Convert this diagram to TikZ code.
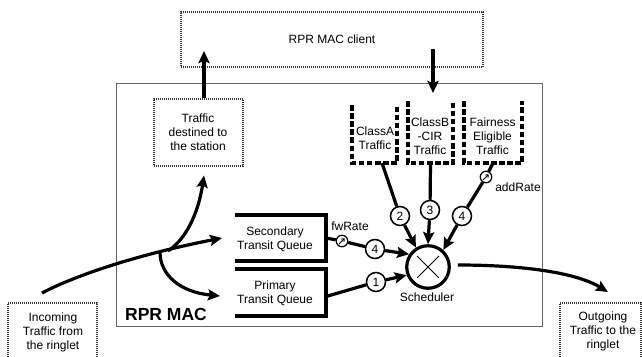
\documentclass[tikz,border=0pt]{standalone}
\usepackage{fontspec}
\setmainfont{Liberation Sans}
\usetikzlibrary{arrows.meta}
\begin{document}
\begin{tikzpicture}[x=1pt,y=-1pt,
  txt/.style={font=\fontsize{12}{14}\selectfont, align=center, inner sep=0pt},
  dotbox/.style={draw=black!80, line width=1.1pt, dash pattern=on 1pt off 1pt},
  thk/.style={line width=3.2pt},
  arr/.style={line width=3.2pt, -{Stealth[length=12pt,width=11pt,inset=2pt]}},
  dsh/.style={line width=3.2pt, dash pattern=on 5.5pt off 2.6pt},
  shape0/.style={inner sep=0pt, outer sep=0pt},
  num/.style={circle, draw, line width=1.5pt, fill=white, minimum size=19pt, inner sep=0pt, font=\fontsize{12}{14}\selectfont},
  rate/.style={circle, draw, line width=1.2pt, fill=white, minimum size=11.5pt, inner sep=0pt,
    path picture={\draw[line width=0.9pt,-{Straight Barb[length=2.4pt,width=4.4pt]}]
      ([shift={(-2.8pt,-2.8pt)}]path picture bounding box.center) --
      ([shift={(2.6pt,2.6pt)}]path picture bounding box.center);}}
]
\useasboundingbox (0,0) rectangle (642,356);
\clip (0,0) rectangle (642,356);

% client and MAC frame
\node[dotbox, minimum width=302pt, minimum height=55pt, txt] (cl) at (332,39.5) {RPR MAC client};
\node[draw=black!60, line width=1pt, minimum width=426pt, minimum height=243pt] (mac) at (329,204.5) {};
\node[font=\bfseries\fontsize{17.5}{20}\selectfont, inner sep=0pt] (maclbl) at (166,314) {RPR MAC};

% traffic destined to the station
\node[dotbox, minimum width=89pt, minimum height=67pt] (td) at (198.5,132.5) {};
\node[txt] (tdt) at (198,132) {Traffic\\destined to\\the station};
\coordinate (upTip) at (204,51);
\draw[arr] (td.north -| upTip) -- (upTip);

% client to MAC
\coordinate (dnS) at (433,49);
\coordinate (dnT) at (433,93);
\draw[arr] (dnS) -- (dnT);

% class boxes
\node[shape0, minimum width=45pt, minimum height=58pt] (ca) at (374.5,134) {};
\draw[dsh] (ca.north west) -- (ca.south west) -- (ca.south east) -- (ca.north east);
\node[txt] (cat) at (375,138) {ClassA\\Traffic};
\node[shape0, minimum width=45pt, minimum height=62pt] (cb) at (430.5,132) {};
\draw[dsh] (cb.north west) -- (cb.south west) -- (cb.south east) -- (cb.north east);
\node[txt] (cbt) at (430,136) {ClassB\\-CIR\\Traffic};
\node[shape0, minimum width=58pt, minimum height=62pt] (cf) at (493,132) {};
\draw[dsh] (cf.north west) -- (cf.south west) -- (cf.south east) -- (cf.north east);
\node[txt] (cft) at (492.5,136) {Fairness\\Eligible\\Traffic};

% queues
\node[shape0, minimum width=91pt, minimum height=46pt] (sq) at (280.5,238) {};
\draw[thk] (sq.north west) -- (sq.north east) -- (sq.south east) -- (sq.south west);
\node[txt] (sqt) at (275,239) {Secondary\\Transit Queue};
\node[shape0, minimum width=91pt, minimum height=47pt] (pq) at (280.5,292.5) {};
\draw[thk] (pq.north west) -- (pq.north east) -- (pq.south east) -- (pq.south west);
\node[txt] (pqt) at (275,293) {Primary\\Transit Queue};

% scheduler
\node[circle, draw, line width=3.2pt, minimum size=42.5pt, inner sep=0pt,
  path picture={\draw[line width=1pt]
    ([shift={(-11pt,-11pt)}]path picture bounding box.center) -- ([shift={(11pt,11pt)}]path picture bounding box.center)
    ([shift={(-11pt,11pt)}]path picture bounding box.center) -- ([shift={(11pt,-11pt)}]path picture bounding box.center);}]
  (sch) at (428,267) {};
\node[txt] (schl) at (427,297) {Scheduler};

% number circles and rate icons
\node[num] (n2) at (400,216) {2};
\node[num] (n3) at (430,210) {3};
\node[num] (n4b) at (462,216) {4};
\node[num] (n4a) at (375,249) {4};
\node[num] (n1) at (376,282) {1};
\node[rate] (fw) at (342,241) {};
\node[txt] (fwl) at (350,226) {fwRate};
\node[rate] (ar) at (486,177) {};
\node[txt] (arl) at (518,187) {addRate};

% connectors into the scheduler
\draw[thk] ([xshift=7.5pt]ca.south) -- (n2);
\draw[arr] (n2) -- (sch.122);
\draw[thk] (cb.south) -- (n3);
\draw[arr] (n3) -- (sch.90);
\draw[thk] (cf.south) -- (ar) -- (n4b);
\draw[arr] (n4b) -- (sch.48);
\draw[thk] (sq.east) -- (fw) -- (n4a);
\draw[arr] (n4a) -- (sch.146);
\draw[thk] ([yshift=-4pt]pq.east) -- (n1);
\draw[arr] (n1) -- (sch.201);

% incoming / outgoing
\node[shape0, minimum width=89pt, minimum height=70pt] (inb) at (52.5,338) {};
\draw[dotbox] (inb.south west) -- (inb.north west) -- (inb.north east) -- (inb.south east);
\node[txt] (inbt) at (53,332) {Incoming\\Traffic from\\the ringlet};
\node[shape0, minimum width=81pt, minimum height=70pt] (outb) at (600.5,338) {};
\draw[dotbox] (outb.south west) -- (outb.north west) -- (outb.north east) -- (outb.south east);
\node[txt] (outbt) at (603,331) {Outgoing\\Traffic to the\\ringlet};

\coordinate (inS) at (42,293);
\coordinate (brU) at (168,251);
\coordinate (brD) at (160,252);
\draw[arr] (inS) .. controls (70,278) and (130,256) .. ([xshift=-13pt]sq.west);
\draw[arr] (brU) .. controls (185,240) and (198,215) .. ([yshift=-9pt]td.south -| upTip);
\draw[arr] (brD) .. controls (160,275) and (180,292) .. ([xshift=-15pt,yshift=-3.5pt]pq.west);
\coordinate (outT) at (608,292);
\draw[arr] ([xshift=7pt,yshift=2pt]sch.east) .. controls (520,265) and (575,272) .. (outT);
\end{tikzpicture}
\end{document}
